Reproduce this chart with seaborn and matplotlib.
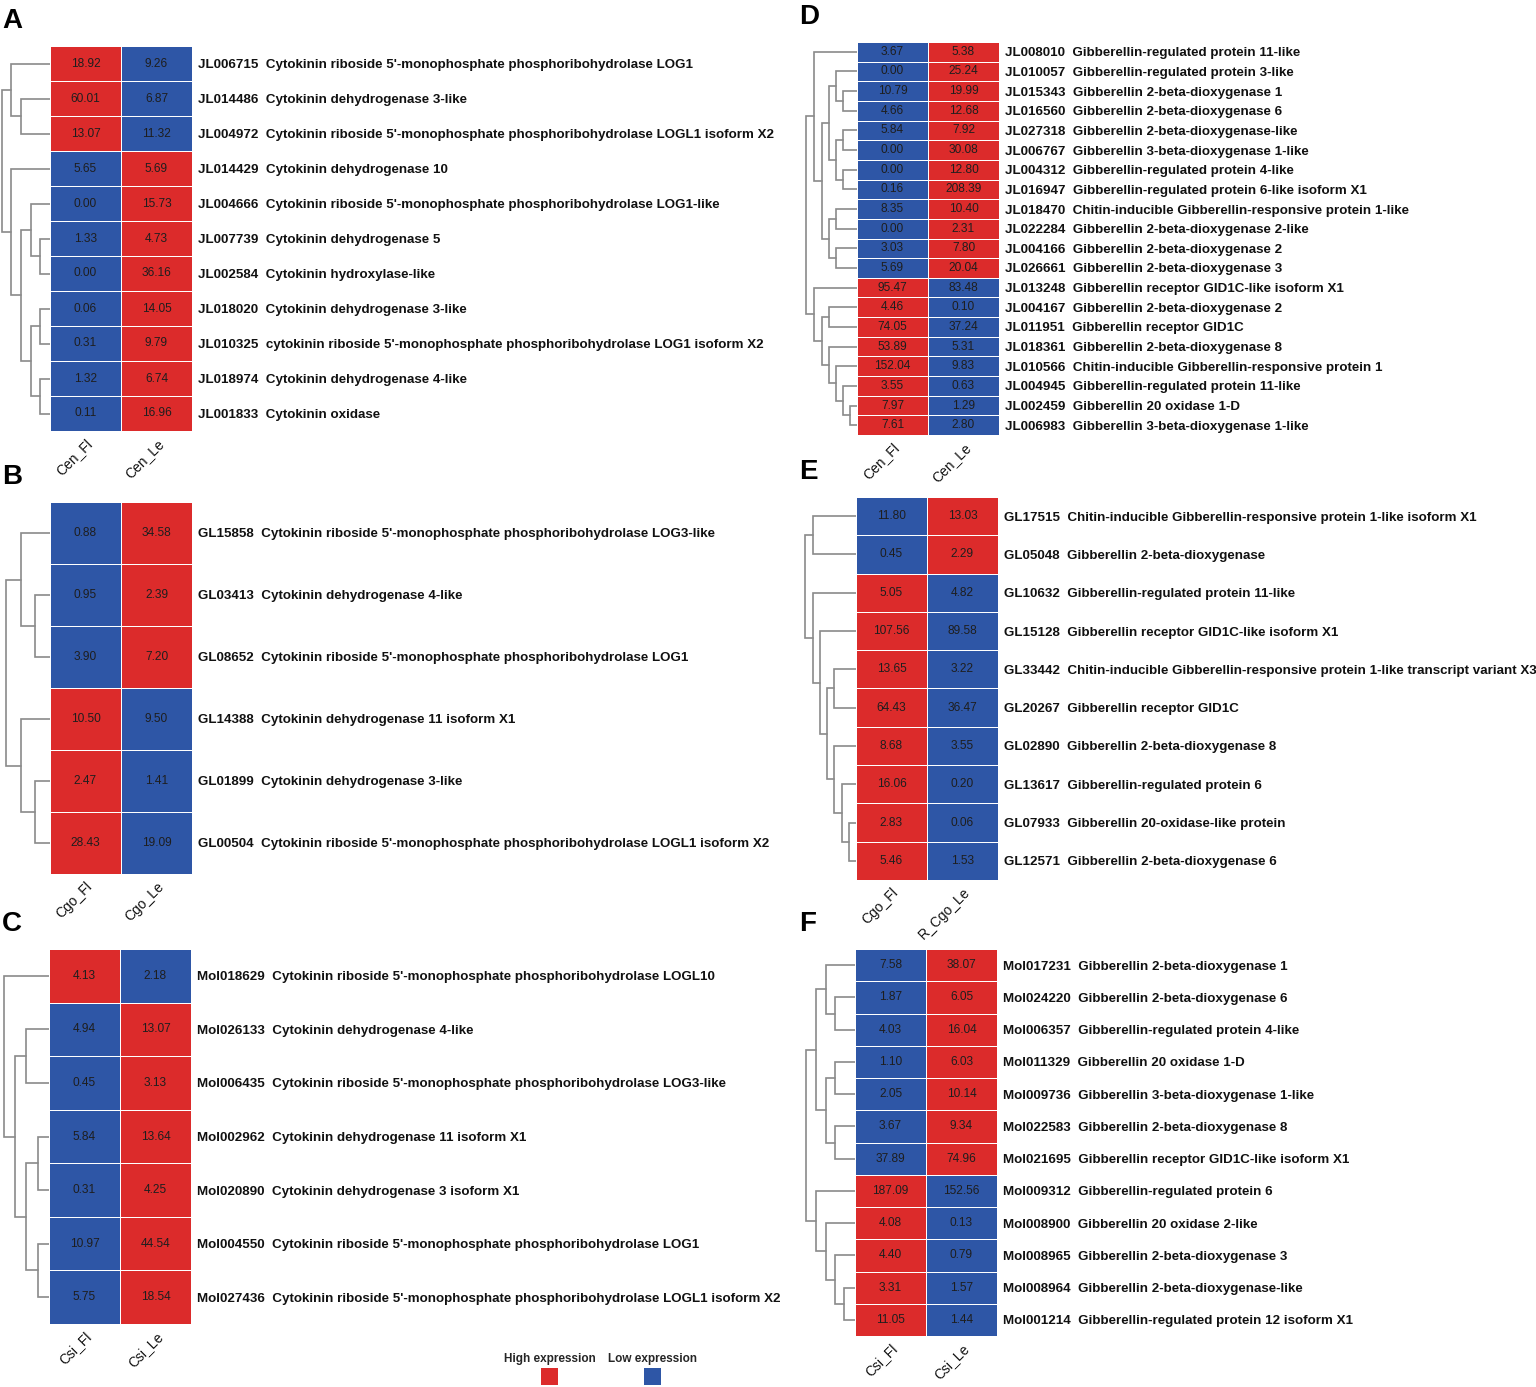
import numpy as np
import pandas as pd
import seaborn as sns
import matplotlib.pyplot as plt
from matplotlib.colors import ListedColormap
from matplotlib.patches import Rectangle
from matplotlib.transforms import ScaledTranslation

# ---- panel A: Cen cytokinin genes ----
a_ids = ["JL006715", "JL014486", "JL004972", "JL014429", "JL004666", "JL007739",
         "JL002584", "JL018020", "JL010325", "JL018974", "JL001833"]
a_desc = ["Cytokinin riboside 5'-monophosphate phosphoribohydrolase LOG1",
          "Cytokinin dehydrogenase 3-like",
          "Cytokinin riboside 5'-monophosphate phosphoribohydrolase LOGL1 isoform X2",
          "Cytokinin dehydrogenase 10",
          "Cytokinin riboside 5'-monophosphate phosphoribohydrolase LOG1-like",
          "Cytokinin dehydrogenase 5",
          "Cytokinin hydroxylase-like",
          "Cytokinin dehydrogenase 3-like",
          "cytokinin riboside 5'-monophosphate phosphoribohydrolase LOG1 isoform X2",
          "Cytokinin dehydrogenase 4-like",
          "Cytokinin oxidase"]
a_fl = [18.92, 60.01, 13.07, 5.65, 0.00, 1.33, 0.00, 0.06, 0.31, 1.32, 0.11]
a_le = [9.26, 6.87, 11.32, 5.69, 15.73, 4.73, 36.16, 14.05, 9.79, 6.74, 16.96]
a_cols = ["Cen_Fl", "Cen_Le"]
a_tree = [[0, [1, 2, 29], 39],
          [3, [[4, [5, 6, 10], 19], [[7, 8, 10], [9, 10, 10], 19], 29], 39], 48]

# ---- panel B: Cgo cytokinin genes ----
b_ids = ["GL15858", "GL03413", "GL08652", "GL14388", "GL01899", "GL00504"]
b_desc = ["Cytokinin riboside 5'-monophosphate phosphoribohydrolase LOG3-like",
          "Cytokinin dehydrogenase 4-like",
          "Cytokinin riboside 5'-monophosphate phosphoribohydrolase LOG1",
          "Cytokinin dehydrogenase 11 isoform X1",
          "Cytokinin dehydrogenase 3-like",
          "Cytokinin riboside 5'-monophosphate phosphoribohydrolase LOGL1 isoform X2"]
b_fl = [0.88, 0.95, 3.90, 10.50, 2.47, 28.43]
b_le = [34.58, 2.39, 7.20, 9.50, 1.41, 19.09]
b_cols = ["Cgo_Fl", "Cgo_Le"]
b_tree = [[0, [1, 2, 15], 29], [3, [4, 5, 15], 29], 44]

# ---- panel C: Csi cytokinin genes ----
c_ids = ["Mol018629", "Mol026133", "Mol006435", "Mol002962", "Mol020890",
         "Mol004550", "Mol027436"]
c_desc = ["Cytokinin riboside 5'-monophosphate phosphoribohydrolase LOGL10",
          "Cytokinin dehydrogenase 4-like",
          "Cytokinin riboside 5'-monophosphate phosphoribohydrolase LOG3-like",
          "Cytokinin dehydrogenase 11 isoform X1",
          "Cytokinin dehydrogenase 3 isoform X1",
          "Cytokinin riboside 5'-monophosphate phosphoribohydrolase LOG1",
          "Cytokinin riboside 5'-monophosphate phosphoribohydrolase LOGL1 isoform X2"]
c_fl = [4.13, 4.94, 0.45, 5.84, 0.31, 10.97, 5.75]
c_le = [2.18, 13.07, 3.13, 13.64, 4.25, 44.54, 18.54]
c_cols = ["Csi_Fl", "Csi_Le"]
c_tree = [0, [[1, 2, 23], [[3, 4, 11], [5, 6, 11], 23], 34], 45]

# ---- panel D: Cen gibberellin genes ----
d_ids = ["JL008010", "JL010057", "JL015343", "JL016560", "JL027318", "JL006767",
         "JL004312", "JL016947", "JL018470", "JL022284", "JL004166", "JL026661",
         "JL013248", "JL004167", "JL011951", "JL018361", "JL010566", "JL004945",
         "JL002459", "JL006983"]
d_desc = ["Gibberellin-regulated protein 11-like",
          "Gibberellin-regulated protein 3-like",
          "Gibberellin 2-beta-dioxygenase 1",
          "Gibberellin 2-beta-dioxygenase 6",
          "Gibberellin 2-beta-dioxygenase-like",
          "Gibberellin 3-beta-dioxygenase 1-like",
          "Gibberellin-regulated protein 4-like",
          "Gibberellin-regulated protein 6-like isoform X1",
          "Chitin-inducible Gibberellin-responsive protein 1-like",
          "Gibberellin 2-beta-dioxygenase 2-like",
          "Gibberellin 2-beta-dioxygenase 2",
          "Gibberellin 2-beta-dioxygenase 3",
          "Gibberellin receptor GID1C-like isoform X1",
          "Gibberellin 2-beta-dioxygenase 2",
          "Gibberellin receptor GID1C",
          "Gibberellin 2-beta-dioxygenase 8",
          "Chitin-inducible Gibberellin-responsive protein 1",
          "Gibberellin-regulated protein 11-like",
          "Gibberellin 20 oxidase 1-D",
          "Gibberellin 3-beta-dioxygenase 1-like"]
d_fl = [3.67, 0.00, 10.79, 4.66, 5.84, 0.00, 0.00, 0.16, 8.35, 0.00, 3.03, 5.69,
        95.47, 4.46, 74.05, 53.89, 152.04, 3.55, 7.97, 7.61]
d_le = [5.38, 25.24, 19.99, 12.68, 7.92, 30.08, 12.80, 208.39, 10.40, 2.31, 7.80, 20.04,
        83.48, 0.10, 37.24, 5.31, 9.83, 0.63, 1.29, 2.80]
d_cols = ["Cen_Fl", "Cen_Le"]
d_tree = [[0, [[[1, [2, 3, 14], 21], [[4, 5, 14], [6, 7, 14], 21], 28],
                [[8, 9, 21], [10, 11, 21], 28], 35], 43],
          [12, [[13, 14, 28], [15, [16, [17, [18, 19, 7], 14], 21], 28], 35], 43], 51]

# ---- panel E: Cgo gibberellin genes ----
e_ids = ["GL17515", "GL05048", "GL10632", "GL15128", "GL33442", "GL20267",
         "GL02890", "GL13617", "GL07933", "GL12571"]
e_desc = ["Chitin-inducible Gibberellin-responsive protein 1-like isoform X1",
          "Gibberellin 2-beta-dioxygenase",
          "Gibberellin-regulated protein 11-like",
          "Gibberellin receptor GID1C-like isoform X1",
          "Chitin-inducible Gibberellin-responsive protein 1-like transcript variant X3",
          "Gibberellin receptor GID1C",
          "Gibberellin 2-beta-dioxygenase 8",
          "Gibberellin-regulated protein 6",
          "Gibberellin 20-oxidase-like protein",
          "Gibberellin 2-beta-dioxygenase 6"]
e_fl = [11.80, 0.45, 5.05, 107.56, 13.65, 64.43, 8.68, 16.06, 2.83, 5.46]
e_le = [13.03, 2.29, 4.82, 89.58, 3.22, 36.47, 3.55, 0.20, 0.06, 1.53]
e_cols = ["Cgo_Fl", "R_Cgo_Le"]
e_tree = [[0, 1, 43],
          [2, [3, [[4, 5, 22], [6, [7, [8, 9, 7], 14], 22], 29], 36], 43], 51]

# ---- panel F: Csi gibberellin genes ----
f_ids = ["Mol017231", "Mol024220", "Mol006357", "Mol011329", "Mol009736", "Mol022583",
         "Mol021695", "Mol009312", "Mol008900", "Mol008965", "Mol008964", "Mol001214"]
f_desc = ["Gibberellin 2-beta-dioxygenase 1",
          "Gibberellin 2-beta-dioxygenase 6",
          "Gibberellin-regulated protein 4-like",
          "Gibberellin 20 oxidase 1-D",
          "Gibberellin 3-beta-dioxygenase 1-like",
          "Gibberellin 2-beta-dioxygenase 8",
          "Gibberellin receptor GID1C-like isoform X1",
          "Gibberellin-regulated protein 6",
          "Gibberellin 20 oxidase 2-like",
          "Gibberellin 2-beta-dioxygenase 3",
          "Gibberellin 2-beta-dioxygenase-like",
          "Gibberellin-regulated protein 12 isoform X1"]
f_fl = [7.58, 1.87, 4.03, 1.10, 2.05, 3.67, 37.89, 187.09, 4.08, 4.40, 3.31, 11.05]
f_le = [38.07, 6.05, 16.04, 6.03, 10.14, 9.34, 74.96, 152.56, 0.13, 0.79, 1.57, 1.44]
f_cols = ["Csi_Fl", "Csi_Le"]
f_tree = [[[0, [1, 2, 20], 29], [[3, 4, 20], [5, 6, 20], 29], 39],
          [7, [8, [9, [10, 11, 11], 20], 29], 39], 49]

RED = "#DC2B2B"
BLUE = "#2E56A6"
W, H = 1536, 1387

sns.set_theme(style="white")
plt.rcParams["font.family"] = ["Liberation Sans", "DejaVu Sans"]

fig = plt.figure(figsize=(W / 100, H / 100), dpi=100)


def px_axes(x0, y0, x1, y1):
    return fig.add_axes([x0 / W, 1 - y1 / H, (x1 - x0) / W, (y1 - y0) / H])


def draw_tree(ax, node):
    if isinstance(node, int):
        return node + 0.5, 0
    left, right, h = node
    yl, hl = draw_tree(ax, left)
    yr, hr = draw_tree(ax, right)
    ax.plot([hl, h, h, hr], [yl, yl, yr, yr], color="#8a8a8a", lw=1.2,
            solid_joinstyle="miter")
    return (yl + yr) / 2, h


def panel(rect, letter, ids, desc, fl, le, cols, tree):
    x0, y0, x1, y1 = rect
    df = pd.DataFrame({cols[0]: fl, cols[1]: le},
                      index=[f"{g}  {d}" for g, d in zip(ids, desc)])
    vals = df.values
    high = (vals >= vals.max(axis=1, keepdims=True)).astype(int)

    ax = px_axes(x0, y0, x1, y1)
    sns.heatmap(high, ax=ax, cmap=ListedColormap([BLUE, RED]), vmin=0, vmax=1,
                annot=vals, fmt=".2f", cbar=False, linewidths=0.7, linecolor="white",
                annot_kws={"color": "#1e1e1e", "fontsize": 8.6})
    ax.yaxis.tick_right()
    ax.set_yticks(np.arange(len(df)) + 0.5)
    ax.set_yticklabels(df.index, rotation=0, fontsize=9.65, fontweight="bold",
                       color="#111111")
    ax.set_xticks(np.arange(2) + 0.5)
    ax.set_xticklabels(cols, rotation=45, ha="right", va="top",
                       rotation_mode="anchor", fontsize=10, color="#111111")
    shift = ScaledTranslation(9 / 100, -4 / 100, fig.dpi_scale_trans)
    for lab in ax.get_xticklabels():
        lab.set_transform(lab.get_transform() + shift)
    ax.tick_params(length=0, pad=4)
    ax.set_xlabel("")
    ax.set_ylabel("")

    dax = px_axes(x0 - 52, y0, x0, y1)
    draw_tree(dax, tree)
    dax.set_xlim(52, 0)
    dax.set_ylim(len(df), 0)
    dax.axis("off")

    lx = 2 if x0 < 500 else 799
    fig.text(lx / W, 1 - (y0 - 12) / H, letter, fontsize=20, fontweight="bold",
             ha="left", va="bottom", color="black")


panel((50, 46, 192, 431), "A", a_ids, a_desc, a_fl, a_le, a_cols, a_tree)
panel((50, 502, 192, 874), "B", b_ids, b_desc, b_fl, b_le, b_cols, b_tree)
panel((49, 949, 191, 1324), "C", c_ids, c_desc, c_fl, c_le, c_cols, c_tree)
panel((857, 42, 999, 435), "D", d_ids, d_desc, d_fl, d_le, d_cols, d_tree)
panel((856, 497, 998, 880), "E", e_ids, e_desc, e_fl, e_le, e_cols, e_tree)
panel((855, 949, 997, 1336), "F", f_ids, f_desc, f_fl, f_le, f_cols, f_tree)

# legend
for cx, label, col in [(550, "High expression", RED), (653, "Low expression", BLUE)]:
    fig.text(cx / W, 1 - 1359 / H, label, fontsize=8.5, fontweight="bold",
             ha="center", va="center")
    fig.add_artist(Rectangle(((cx - 9) / W, 1 - 1385 / H), 17 / W, 17 / H,
                             transform=fig.transFigure, facecolor=col,
                             edgecolor="none"))

fig.savefig("out.png", dpi=100)
